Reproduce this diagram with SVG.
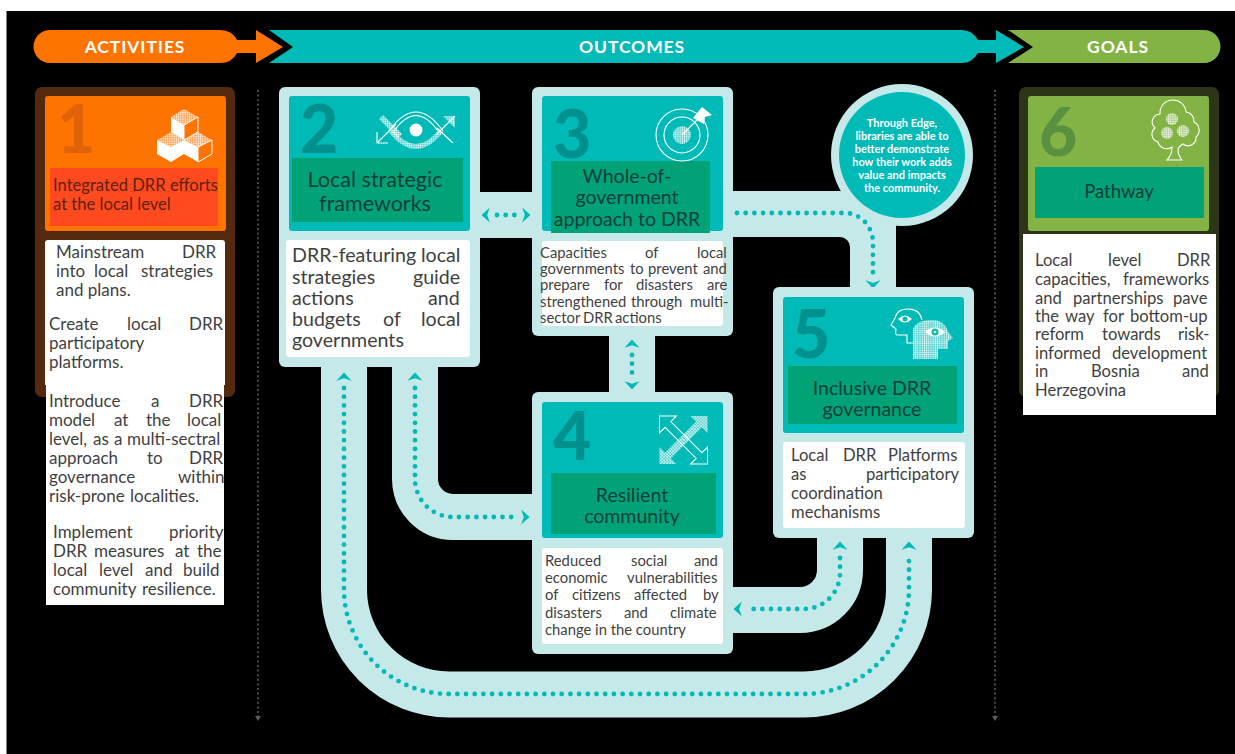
<svg xmlns="http://www.w3.org/2000/svg" width="1235" height="754" viewBox="0 0 1235 754">
<style>
text{font-family:"Lato","Open Sans",sans-serif}
.hd{font-weight:700;fill:#fff;font-size:17.500px;letter-spacing:.9px;text-anchor:middle}
.num{font-weight:900;font-size:66px}
.ti{fill:#0a3f38;text-anchor:middle;font-size:19.5px}
.b{fill:#3f3f3f}
.s17{font-size:17px}.s15{font-size:14.8px}.s20{font-size:19.6px}.s166{font-size:16.6px}
.band{fill:none;stroke:#c5e8e8;stroke-width:46}
.dots{fill:none;stroke:#00bab8;stroke-width:4.8;stroke-linecap:round;stroke-dasharray:0 8.700}
.pale{fill:#c5e8e8}.teal{fill:#00bab8}.gr{fill:#02a277}.wh{fill:#fff}
.chev{fill:#00bab8}
.guide{stroke:#5c5c5c;stroke-width:1.6;stroke-dasharray:2 2.6;fill:none}
.ln{fill:none;stroke:#fff;stroke-width:1.1}
.cb{font-size:11px;font-weight:700;fill:#fff;text-anchor:middle}
</style>
<defs>
<pattern id="hatch" width="2.2" height="2.2" patternUnits="userSpaceOnUse"><rect width="2.2" height="2.2" fill="#fff" fill-opacity=".35"/><path d="M0,0H2.2M0,0V2.2" stroke="#fff" stroke-width=".9"/></pattern>
<path id="chevron" class="chev" d="M0,-4.5L7.5,3.8L0,1.2L-7.5,3.8Z"/>
<path id="dbl" d="M-34,0L-22,-12V-4H22V-12L34,0L22,12V4H-22V12Z"/>
</defs>
<rect width="1235" height="754" fill="#fff"/>
<rect x="6.500" y="11" width="1228.500" height="743" fill="#000"/>

<g id="header">
<path d="M50,30H220Q232,30 237,40H256V30L283,47L256,63V53H237Q232,63 220,63H50A16.500,16.500 0 0 1 50,30Z" fill="#ff7300"/>
<path d="M269,30H962Q972,30 978,40H996V30L1024,47L996,63V53H978Q972,63 962,63H269L293,47Z" fill="#00bab8"/>
<path d="M1008,30H1204A16.500,16.500 0 0 1 1204,63H1008L1033,47Z" fill="#82b344"/>
<text class="hd" x="135" y="53">ACTIVITIES</text>
<text class="hd" x="632" y="53">OUTCOMES</text>
<text class="hd" x="1118" y="53">GOALS</text>
</g>

<g id="guides">
<path class="guide" d="M258,90V716"/><path d="M255,716H261L258,721Z" fill="#5c5c5c"/>
<path class="guide" d="M995,90V716"/><path d="M992,716H998L995,721Z" fill="#5c5c5c"/>
</g>

<g id="connectors">
<path class="band" d="M476,215H536"/>
<path class="band" d="M632,332V396"/>
<path class="band" d="M729,214H840A33,33 0 0 1 873,247V291"/>
<rect x="862" y="205" width="34" height="50" class="pale"/>
<path class="band" d="M415,363V479A38,38 0 0 0 453,517H536"/>
<path class="band" d="M840,534V570A40,40 0 0 1 800,610H729"/>
<path class="band" d="M344,363V590A105,105 0 0 0 449,694.500H804A105,105 0 0 0 909,590V534"/>
<path class="dots" d="M497,215H516"/>
<path class="dots" d="M632,355V376"/>
<path class="dots" d="M737,213H845A28,30 0 0 1 873,243V276"/>
<path class="dots" d="M415,388V479A38,38 0 0 0 453,517H516"/>
<path class="dots" d="M840,558V573A36,36 0 0 1 804,609H750"/>
<path class="dots" d="M344,388V590A105,105 0 0 0 449,694H804A105,105 0 0 0 909,589V556"/>
<use href="#chevron" transform="translate(486,215) rotate(-90)"/>
<use href="#chevron" transform="translate(526,215) rotate(90)"/>
<use href="#chevron" transform="translate(632,344)"/>
<use href="#chevron" transform="translate(632,385) rotate(180)"/>
<use href="#chevron" transform="translate(873,284) rotate(180)"/>
<use href="#chevron" transform="translate(344,377)"/>
<use href="#chevron" transform="translate(415,377)"/>
<use href="#chevron" transform="translate(525,517) rotate(90)"/>
<use href="#chevron" transform="translate(840,546)"/>
<use href="#chevron" transform="translate(909,546)"/>
<use href="#chevron" transform="translate(738,609) rotate(-90)"/>
</g>

<g id="node-1">
<rect x="35" y="87" width="200" height="310" rx="7" fill="#55290e"/>
<rect x="45" y="96" width="181" height="135" rx="3" fill="#ff7300"/>
<rect x="50" y="168" width="168" height="58" fill="#ff4a1f"/>
<text class="num" x="57" y="153" fill="#e0630a">1</text>
<polygon points="184,109 198,117 184,125 171,117" fill="url(#hatch)"/>
<polygon points="171,117 184,125 184,140 171,132" fill="#fff"/>
<polygon points="184,125 198,117 198,132 184,140" fill="none" stroke="#fff"/>
<polygon points="171,132 184,140 171,147 157,140" fill="url(#hatch)"/>
<polygon points="157,140 171,147 171,162 157,154" fill="#fff"/>
<polygon points="171,147 184,140 184,154 171,162" fill="#fff"/>
<polygon points="198,132 212,140 198,147 184,140" fill="url(#hatch)"/>
<polygon points="184,140 198,147 198,162 184,154" fill="#fff"/>
<polygon points="198,147 212,140 212,154 198,162" fill="none" stroke="#fff"/>
<text x="53" y="191" font-size="16.600" fill="#5f2010">Integrated DRR efforts</text>
<text x="53" y="210" font-size="16.600" fill="#5f2010">at the local level</text>
<path d="M48,240H222Q225,240 225,243V385H224V605H46V385H45V243Q45,240 48,240Z" fill="#fff"/>
<g class="b s17">
<text y="258"><tspan x="56">Mainstream</tspan> <tspan x="182">DRR</tspan></text>
<text y="277"><tspan x="56">into</tspan> <tspan x="94">local</tspan> <tspan x="141">strategies</tspan></text>
<text y="296"><tspan x="56">and plans.</tspan></text>
<text y="330"><tspan x="49">Create</tspan> <tspan x="127">local</tspan> <tspan x="189">DRR</tspan></text>
<text y="349"><tspan x="49">participatory</tspan></text>
<text y="368"><tspan x="49">platforms.</tspan></text>
<text y="407"><tspan x="49">Introduce</tspan> <tspan x="151">a</tspan> <tspan x="189">DRR</tspan></text>
<text y="426"><tspan x="49">model</tspan> <tspan x="114">at</tspan> <tspan x="146">the</tspan> <tspan x="187">local</tspan></text>
<text y="445"><tspan x="49">level,</tspan> <tspan x="93">as</tspan> <tspan x="114">a</tspan> <tspan x="127">multi-sectral</tspan></text>
<text y="464"><tspan x="49">approach</tspan> <tspan x="147">to</tspan> <tspan x="189">DRR</tspan></text>
<text y="483"><tspan x="49">governance</tspan> <tspan x="178">within</tspan></text>
<text y="502"><tspan x="49">risk-prone</tspan> <tspan x="130">localities.</tspan></text>
<text y="538"><tspan x="53">Implement</tspan> <tspan x="169">priority</tspan></text>
<text y="557"><tspan x="53">DRR</tspan> <tspan x="94">measures</tspan> <tspan x="175">at</tspan> <tspan x="197">the</tspan></text>
<text y="576"><tspan x="53">local</tspan> <tspan x="99">level</tspan> <tspan x="145">and</tspan> <tspan x="183">build</tspan></text>
<text y="595"><tspan x="53">community</tspan> <tspan x="142">resilience.</tspan></text>
</g>
</g>

<g id="node-2">
<rect x="279" y="87" width="201" height="280" rx="6" class="pale"/>
<rect x="289" y="96" width="181" height="135" rx="3" class="teal"/>
<rect x="292" y="158" width="171" height="64" class="gr"/>
<text class="num" x="300" y="153" fill="#00908e">2</text>
<path class="ln" d="M389,131Q416,93 443,131M394,131Q416,100 438,131"/>
<path d="M391,131Q416,162 441,131" fill="none" stroke="url(#hatch)" stroke-width="5"/>
<circle cx="416" cy="130" r="6.500" fill="#fff"/>
<path d="M381,117L400,136" stroke="url(#hatch)" stroke-width="6" fill="none"/>
<path class="ln" d="M377,132V143H388M377,143L396,124M437,128L453,143"/>
<polygon points="443,116 455,116 455,128" fill="url(#hatch)"/>
<path class="ln" d="M455,116L437,134"/>
<text class="ti" x="375" y="186.500" style="font-size:21.500px">Local strategic</text>
<text class="ti" x="375" y="210.500" style="font-size:21.500px">frameworks</text>
<rect x="286" y="240" width="184" height="117" rx="3" class="wh"/>
<g class="b s20">
<text y="262"><tspan x="292">DRR-featuring</tspan> <tspan x="421">local</tspan></text>
<text y="283.500"><tspan x="292">strategies</tspan> <tspan x="413">guide</tspan></text>
<text y="304.500"><tspan x="292">actions</tspan> <tspan x="428">and</tspan></text>
<text y="326"><tspan x="292">budgets</tspan> <tspan x="383">of</tspan> <tspan x="421">local</tspan></text>
<text y="347"><tspan x="292">governments</tspan></text>
</g>
</g>

<g id="node-3">
<rect x="532" y="87" width="201" height="249" rx="6" class="pale"/>
<rect x="542" y="96" width="181" height="135" rx="3" class="teal"/>
<rect x="551" y="161" width="159" height="72" class="gr"/>
<text class="num" x="553" y="158" fill="#00908e">3</text>
<circle class="ln" cx="682" cy="135" r="26"/><circle class="ln" cx="682" cy="135" r="18"/>
<circle cx="682" cy="135" r="9" fill="url(#hatch)"/>
<path class="ln" d="M682,135L698,119"/>
<polygon points="702,107 712,115 705,117 704,124 693,118" fill="#fff"/>
<text class="ti" x="627" y="183">Whole-of-</text>
<text class="ti" x="627" y="204">government</text>
<text class="ti" x="627" y="225.500">approach to DRR</text>
<rect x="542" y="241" width="181" height="85" rx="3" class="wh"/>
<g class="b s15">
<text y="258"><tspan x="540">Capacities</tspan> <tspan x="645">of</tspan> <tspan x="697">local</tspan></text>
<text y="274"><tspan x="540">governments</tspan> <tspan x="630">to</tspan> <tspan x="648">prevent</tspan> <tspan x="703">and</tspan></text>
<text y="290"><tspan x="540">prepare</tspan> <tspan x="604">for</tspan> <tspan x="636">disasters</tspan> <tspan x="707">are</tspan></text>
<text y="306.500"><tspan x="540">strengthened</tspan> <tspan x="631">through</tspan> <tspan x="690">multi-</tspan></text>
<text y="323"><tspan x="540">sector</tspan> <tspan x="583">DRR</tspan> <tspan x="615">actions</tspan></text>
</g>
</g>

<g id="note">
<circle cx="902" cy="155" r="71" class="pale"/>
<circle cx="902" cy="155" r="63" class="teal"/>
<text class="cb" x="902" y="127">Through Edge,</text>
<text class="cb" x="902" y="140">libraries are able to</text>
<text class="cb" x="902" y="153">better demonstrate</text>
<text class="cb" x="902" y="166">how their work adds</text>
<text class="cb" x="902" y="179">value and impacts</text>
<text class="cb" x="902" y="192">the community.</text>
</g>

<g id="node-4">
<rect x="532" y="392" width="201" height="262" rx="6" class="pale"/>
<rect x="542" y="402" width="181" height="136" rx="3" class="teal"/>
<rect x="551" y="473" width="165" height="61" class="gr"/>
<text class="num" x="553" y="460" fill="#00908e">4</text>
<use href="#dbl" transform="translate(683.500,440) rotate(45)" fill="none" stroke="#fff"/>
<use href="#dbl" transform="translate(683.500,440) rotate(-45)" fill="url(#hatch)"/>
<text class="ti" x="632" y="502">Resilient</text>
<text class="ti" x="632" y="523">community</text>
<rect x="542" y="548" width="181" height="96" rx="3" class="wh"/>
<g class="b s15">
<text y="566"><tspan x="545">Reduced</tspan> <tspan x="631">social</tspan> <tspan x="694">and</tspan></text>
<text y="583"><tspan x="545">economic</tspan> <tspan x="627">vulnerabilities</tspan></text>
<text y="600"><tspan x="545">of</tspan> <tspan x="572">citizens</tspan> <tspan x="634">affected</tspan> <tspan x="703">by</tspan></text>
<text y="617.500"><tspan x="545">disasters</tspan> <tspan x="624">and</tspan> <tspan x="670">climate</tspan></text>
<text y="634.500"><tspan x="545">change in the country</tspan></text>
</g>
</g>

<g id="node-5">
<rect x="773" y="287" width="201" height="251" rx="6" class="pale"/>
<rect x="783" y="297" width="181" height="136" rx="3" class="teal"/>
<rect x="788" y="366" width="169" height="58" class="gr"/>
<text class="num" x="792" y="358" fill="#00908e">5</text>
<path d="M913,359V330Q915,320 932,320Q945,320 948,332L953,338L948,341V349H938V359Z" fill="url(#hatch)"/>
<path class="ln" d="M913,343H907V335H897Q895,335 896,329L891,325L895,318Q897,309 908,309Q920,309 922,320"/>
<path d="M898,319Q905,312 912,319Q905,326 898,319Z" fill="#fff"/><circle cx="905" cy="319" r="2.500" fill="#00bab8"/>
<path d="M925,332Q935,323 945,332Q935,341 925,332Z" fill="#fff"/><circle cx="935" cy="332" r="3.500" fill="#00bab8"/><circle cx="935" cy="332" r="1.300" fill="#fff"/>
<text class="ti" x="872" y="395">Inclusive DRR</text>
<text class="ti" x="872" y="416">governance</text>
<rect x="783" y="442" width="182" height="86" rx="3" class="wh"/>
<g class="b s166">
<text y="461"><tspan x="791">Local</tspan> <tspan x="843">DRR</tspan> <tspan x="888">Platforms</tspan></text>
<text y="480"><tspan x="791">as</tspan> <tspan x="866">participatory</tspan></text>
<text y="499"><tspan x="791">coordination</tspan></text>
<text y="518"><tspan x="791">mechanisms</tspan></text>
</g>
</g>

<g id="node-6">
<rect x="1019" y="87" width="200" height="310" rx="7" fill="#2d3517"/>
<rect x="1028" y="96" width="181" height="135" rx="3" fill="#82b344"/>
<rect x="1035" y="167" width="169" height="51" class="gr"/>
<text class="num" x="1039" y="156" fill="#5a9140">6</text>
<path class="ln" d="M1172,147A9,9 0 0 1 1158,142A8,8 0 0 1 1155,128A8,8 0 0 1 1160,114A13,13 0 0 1 1186,112A9,9 0 0 1 1194,122A9,9 0 0 1 1196,137A8,8 0 0 1 1183,144Q1178,147 1178,150Q1178,155 1182,160H1167Q1172,155 1172,147Z"/>
<circle cx="1172" cy="119" r="6" fill="url(#hatch)"/><circle cx="1167" cy="133" r="6" fill="url(#hatch)"/><circle cx="1183" cy="131" r="6" fill="url(#hatch)"/>
<text class="ti" x="1119" y="198" style="font-size:18.500px">Pathway</text>
<rect x="1023" y="234" width="193" height="181" class="wh"/>
<g class="b s166">
<text y="266"><tspan x="1035">Local</tspan> <tspan x="1108">level</tspan> <tspan x="1177">DRR</tspan></text>
<text y="285"><tspan x="1035">capacities,</tspan> <tspan x="1123">frameworks</tspan></text>
<text y="303.500"><tspan x="1035">and</tspan> <tspan x="1073">partnerships</tspan> <tspan x="1173">pave</tspan></text>
<text y="322"><tspan x="1035">the</tspan> <tspan x="1065">way</tspan> <tspan x="1103">for</tspan> <tspan x="1130">bottom-up</tspan></text>
<text y="340"><tspan x="1035">reform</tspan> <tspan x="1102">towards</tspan> <tspan x="1178">risk-</tspan></text>
<text y="358.500"><tspan x="1035">informed</tspan> <tspan x="1112">development</tspan></text>
<text y="377"><tspan x="1035">in</tspan> <tspan x="1091">Bosnia</tspan> <tspan x="1182">and</tspan></text>
<text y="395.500"><tspan x="1035">Herzegovina</tspan></text>
</g>
</g>
</svg>
